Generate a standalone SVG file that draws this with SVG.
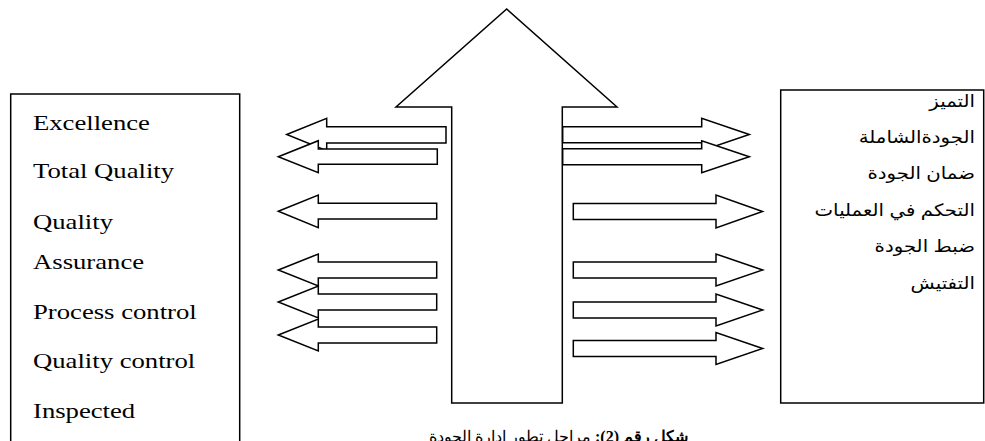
<svg xmlns="http://www.w3.org/2000/svg" width="985" height="441" viewBox="0 0 985 441">
<style>
.box{fill:#fff;stroke:#000;stroke-width:1.5}
.ar{fill:#fff;stroke:#000;stroke-width:1.5;stroke-linejoin:miter}
.en{font-family:"Liberation Serif","Times New Roman",serif;font-size:21px;fill:#000}
.ab{font-family:"Liberation Sans","DejaVu Sans",sans-serif;font-size:17px;fill:#000}
.cap{font-family:"Liberation Serif","DejaVu Serif",serif;font-size:16px;fill:#000}
</style>
<rect width="985" height="441" fill="#fff"/>
<g id="left-box">
<rect class="box" x="10.7" y="94" width="229" height="360"/>
<g transform="translate(33,0) scale(1.27,1)">
<text class="en" x="0" y="130">Excellence</text>
<text class="en" x="0" y="178">Total Quality</text>
<text class="en" x="0" y="229">Quality</text>
<text class="en" x="0" y="269">Assurance</text>
<text class="en" x="0" y="319">Process control</text>
<text class="en" x="0" y="368">Quality control</text>
<text class="en" x="0" y="418">Inspected</text>
</g>
</g>
<g id="right-box">
<rect class="box" x="780.7" y="90" width="203" height="313"/>
<g transform="translate(975,0) scale(1.16,1)">
<text class="ab" x="0" y="107" text-anchor="start" direction="rtl">التميز</text>
<text class="ab" x="0" y="143" text-anchor="start" direction="rtl">الجودةالشاملة</text>
<text class="ab" x="0" y="179" text-anchor="start" direction="rtl">ضمان الجودة</text>
<text class="ab" x="0" y="216" text-anchor="start" direction="rtl">التحكم في العمليات</text>
<text class="ab" x="0" y="252" text-anchor="start" direction="rtl">ضبط الجودة</text>
<text class="ab" x="0" y="289" text-anchor="start" direction="rtl">التفتيش</text>
</g>
</g>
<g id="connectors">
<polygon id="up-arrow" class="ar" points="451.7,403 451.7,107 396,107 506.7,9 617,107 562.3,107 562.3,403"/>
<polygon class="ar" points="286.7,134.5 326.7,118.3 326.7,126.7 446,126.7 446,143 326.7,143 326.7,150.7"/>
<polygon class="ar" points="278.3,156.7 318.3,140.7 318.3,149 437.3,149 437.3,164.3 318.3,164.3 318.3,172.7"/>
<polygon class="ar" points="278.3,211.3 318.3,195 318.3,203.3 436.7,203.3 436.7,219 318.3,219 318.3,227.7"/>
<polygon class="ar" points="278.3,270 318.3,254 318.3,262 436.7,262 436.7,278 318.3,278 318.3,286"/>
<polygon class="ar" points="278.3,302 318.3,286 318.3,294 436.7,294 436.7,310 318.3,310 318.3,318"/>
<polygon class="ar" points="278.3,335 318.3,319 318.3,327 436.7,327 436.7,343 318.3,343 318.3,351"/>
<polygon class="ar" points="749.3,134.5 701.7,118.3 701.7,126.7 562.7,126.7 562.7,142.7 701.7,142.7 701.7,150.7"/>
<polygon class="ar" points="749.3,156.7 701.7,140.7 701.7,148.7 562.7,148.7 562.7,164.7 701.7,164.7 701.7,172.7"/>
<polygon class="ar" points="762.5,211.5 716,195 716,203.5 573.3,203.5 573.3,219.5 716,219.5 716,228"/>
<polygon class="ar" points="762.7,270 716,254 716,262 573.3,262 573.3,278 716,278 716,286"/>
<polygon class="ar" points="762.7,310 716,294 716,302 573.3,302 573.3,318 716,318 716,326"/>
<polygon class="ar" points="762.7,348.5 716,332.5 716,340.5 573.3,340.5 573.3,356.5 716,356.5 716,364.5"/>
</g>
<text class="cap" x="688" y="442" direction="rtl" text-anchor="start"><tspan font-weight="bold">شكل رقم (2):</tspan> مراحل تطور ادارة الجودة</text>
</svg>
